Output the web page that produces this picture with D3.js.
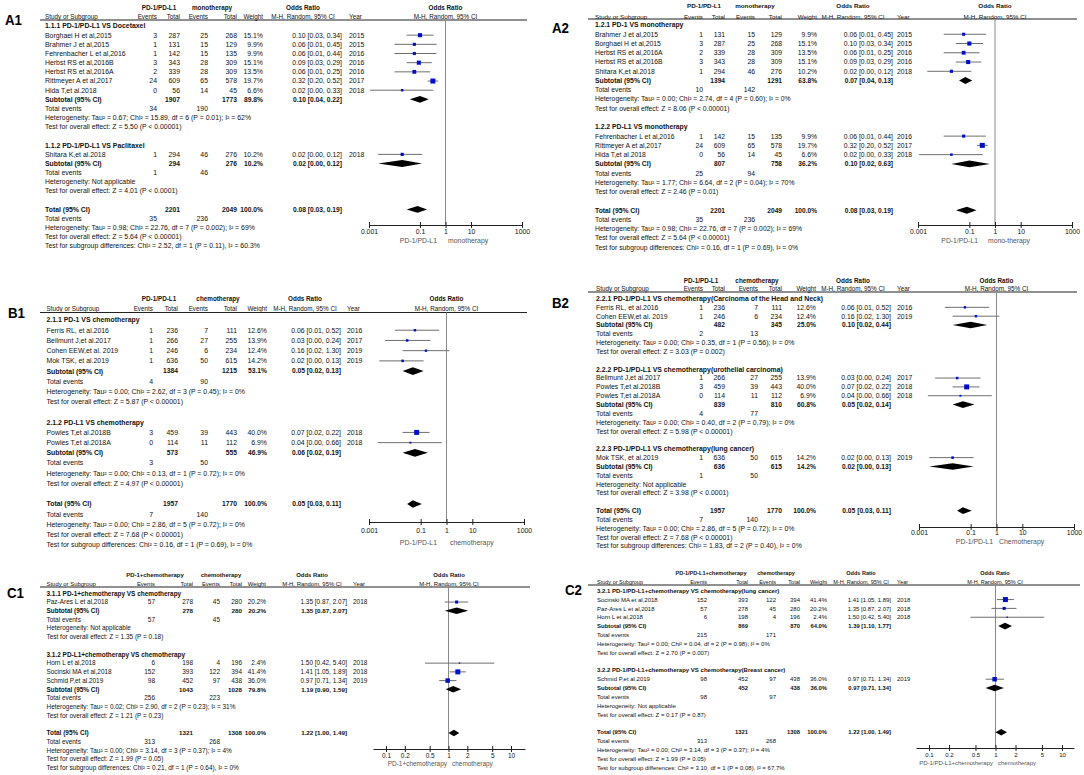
<!DOCTYPE html>
<html>
<head>
<meta charset="utf-8">
<script src="https://cdn.jsdelivr.net/npm/d3@7"></script>
<style>
  body { margin: 0; background: #fff; }
  svg text { font-family: "Liberation Sans", Arial, sans-serif; fill: #111; }
</style>
</head>
<body>
<script>
// ---- A: PD-1/PD-L1 vs monotherapy ----
const studyA = ['Borghaei H et al,2015', 'Brahmer J et al,2015', 'Fehrenbacher L et al,2016', 'Herbst RS et al,2016B', 'Herbst RS et al,2016A', 'Rittmeyer A et al,2017', 'Hida T,et al.2018', 'Shitara K,et al.2018']
const expEventsA = [3, 1, 1, 3, 2, 24, 0, 1]
const expTotalA = [287, 131, 142, 343, 339, 609, 56, 294]
const ctlEventsA = [25, 15, 15, 28, 28, 65, 14, 46]
const ctlTotalA = [268, 129, 135, 309, 309, 578, 45, 276]
const weightA = [15.1, 9.9, 9.9, 15.1, 13.5, 19.7, 6.6, 10.2]
const orA = [0.10, 0.06, 0.06, 0.09, 0.06, 0.32, 0.02, 0.02]
const lowA = [0.03, 0.01, 0.01, 0.03, 0.01, 0.20, 0.0011, 0.0023]
const highA = [0.34, 0.45, 0.44, 0.29, 0.25, 0.52, 0.33, 0.12]
const yearA = [2015, 2015, 2016, 2016, 2016, 2017, 2018, 2018]
// total row: exp total, ctl total, weight, OR, low, high, exp events, ctl events
const totalA = [2201, 2049, 100.0, 0.08, 0.03, 0.19, 35, 236]
const totalHetA = 'Tau² = 0.98; Chi² = 22.76, df = 7 (P = 0.002); I² = 69%'
const totalEffectA = 'Z = 5.64 (P < 0.00001)'

// ---- B: PD-1/PD-L1 vs chemotherapy ----
const studyB = ['Ferris RL, et al.2016', 'Bellmunt J,et al.2017', 'Cohen EEW,et al. 2019', 'Mok TSK, et al.2019', 'Powles T,et al.2018B', 'Powles T,et al.2018A']
const expEventsB = [1, 1, 1, 1, 3, 0]
const expTotalB = [236, 266, 246, 636, 459, 114]
const ctlEventsB = [7, 27, 6, 50, 39, 11]
const ctlTotalB = [111, 255, 234, 615, 443, 112]
const weightB = [12.6, 13.9, 12.4, 14.2, 40.0, 6.9]
const orB = [0.06, 0.03, 0.16, 0.02, 0.07, 0.04]
const lowB = [0.01, 0.0042, 0.02, 0.0025, 0.02, 0.0022]
const highB = [0.52, 0.24, 1.30, 0.13, 0.22, 0.66]
const yearB = [2016, 2017, 2019, 2019, 2018, 2018]
const totalB = [1957, 1770, 100.0, 0.05, 0.03, 0.11, 7, 140]
const totalHetB = 'Tau² = 0.00; Chi² = 2.86, df = 5 (P = 0.72); I² = 0%'
const totalEffectB = 'Z = 7.68 (P < 0.00001)'

// ---- C: PD-1/PD-L1 + chemotherapy vs chemotherapy ----
const studyC = ['Paz-Ares L et al,2018', 'Horn L et al,2018', 'Socinski MA et al,2018', 'Schmid P,et al.2019']
const expEventsC = [57, 6, 152, 98]
const expTotalC = [278, 198, 393, 452]
const ctlEventsC = [45, 4, 122, 97]
const ctlTotalC = [280, 196, 394, 438]
const weightC = [20.2, 2.4, 41.4, 36.0]
const orC = [1.35, 1.50, 1.41, 0.97]
const lowC = [0.87, 0.42, 1.05, 0.71]
const highC = [2.07, 5.40, 1.89, 1.34]
const yearC = [2018, 2018, 2018, 2019]
const totalC = [1321, 1308, 100.0, 1.22, 1.00, 1.49, 313, 268]
const totalHetC = 'Tau² = 0.00; Chi² = 3.14, df = 3 (P = 0.37); I² = 4%'
const totalEffectC = 'Z = 1.99 (P = 0.05)'

// ---- subgroups of each panel ----
const groupsA1 = ['1.1.1 PD-1/PD-L1 VS Docetaxel', '1.1.2 PD-1/PD-L1 VS Paclitaxel']
const membersA1 = [[0, 1, 2, 3, 4, 5, 6], [7]]
const subtotalsA1 = [[1907, 1773, 89.8, 0.10, 0.04, 0.22, 34, 190], [294, 276, 10.2, 0.02, 0.0023, 0.12, 1, 46]]
const hetA1 = ['Tau² = 0.67; Chi² = 15.89, df = 6 (P = 0.01); I² = 62%', 'Not applicable']
const effectA1 = ['Z = 5.50 (P < 0.00001)', 'Z = 4.01 (P < 0.0001)']
const diffA1 = 'Chi² = 2.52, df = 1 (P = 0.11), I² = 60.3%'

const groupsA2 = ['1.2.1 PD-1 VS monotherapy', '1.2.2 PD-L1 VS monotherapy']
const membersA2 = [[1, 0, 4, 3, 7], [2, 5, 6]]
const subtotalsA2 = [[1394, 1291, 63.8, 0.07, 0.04, 0.13, 10, 142], [807, 758, 36.2, 0.10, 0.02, 0.63, 25, 94]]
const hetA2 = ['Tau² = 0.00; Chi² = 2.74, df = 4 (P = 0.60); I² = 0%', 'Tau² = 1.77; Chi² = 6.64, df = 2 (P = 0.04); I² = 70%']
const effectA2 = ['Z = 8.06 (P < 0.00001)', 'Z = 2.46 (P = 0.01)']
const diffA2 = 'Chi² = 0.16, df = 1 (P = 0.69), I² = 0%'

const groupsB1 = ['2.1.1 PD-1 VS chemotherapy', '2.1.2 PD-L1 VS chemotherapy']
const membersB1 = [[0, 1, 2, 3], [4, 5]]
const subtotalsB1 = [[1384, 1215, 53.1, 0.05, 0.02, 0.13, 4, 90], [573, 555, 46.9, 0.06, 0.02, 0.19, 3, 50]]
const hetB1 = ['Tau² = 0.00; Chi² = 2.62, df = 3 (P = 0.45); I² = 0%', 'Tau² = 0.00; Chi² = 0.13, df = 1 (P = 0.72); I² = 0%']
const effectB1 = ['Z = 5.87 (P < 0.00001)', 'Z = 4.97 (P < 0.00001)']
const diffB1 = 'Chi² = 0.16, df = 1 (P = 0.69), I² = 0%'

const groupsB2 = ['2.2.1 PD-1/PD-L1 VS chemotherapy(Carcinoma of the Head and Neck)', '2.2.2 PD-1/PD-L1 VS chemotherapy(urothelial carcinoma)', '2.2.3 PD-1/PD-L1 VS chemotherapy(lung cancer)']
const membersB2 = [[0, 2], [1, 4, 5], [3]]
const subtotalsB2 = [[482, 345, 25.0, 0.10, 0.02, 0.44, 2, 13], [839, 810, 60.8, 0.05, 0.02, 0.14, 4, 77], [636, 615, 14.2, 0.02, 0.0025, 0.13, 1, 50]]
const hetB2 = ['Tau² = 0.00; Chi² = 0.35, df = 1 (P = 0.56); I² = 0%', 'Tau² = 0.00; Chi² = 0.40, df = 2 (P = 0.79); I² = 0%', 'Not applicable']
const effectB2 = ['Z = 3.03 (P = 0.002)', 'Z = 5.98 (P < 0.00001)', 'Z = 3.98 (P < 0.0001)']
const diffB2 = 'Chi² = 1.83, df = 2 (P = 0.40), I² = 0%'

const groupsC1 = ['3.1.1 PD-1+chemotherapy VS chemotherapy', '3.1.2 PD-L1+chemotherapy VS chemotherapy']
const membersC1 = [[0], [1, 2, 3]]
const subtotalsC1 = [[278, 280, 20.2, 1.35, 0.87, 2.07, 57, 45], [1043, 1028, 79.8, 1.19, 0.90, 1.59, 256, 223]]
const hetC1 = ['Not applicable', 'Tau² = 0.02; Chi² = 2.90, df = 2 (P = 0.23); I² = 31%']
const effectC1 = ['Z = 1.35 (P = 0.18)', 'Z = 1.21 (P = 0.23)']
const diffC1 = 'Chi² = 0.21, df = 1 (P = 0.64), I² = 0%'

const groupsC2 = ['3.2.1 PD-1/PD-L1+chemotherapy VS chemotherapy(lung cancer)', '3.2.2 PD-1/PD-L1+chemotherapy VS chemotherapy(Breast cancer)']
const membersC2 = [[2, 0, 1], [3]]
const subtotalsC2 = [[869, 870, 64.0, 1.39, 1.10, 1.77, 215, 171], [452, 438, 36.0, 0.97, 0.71, 1.34, 98, 97]]
const hetC2 = ['Tau² = 0.00; Chi² = 0.04, df = 2 (P = 0.98); I² = 0%', 'Not applicable']
const effectC2 = ['Z = 2.70 (P = 0.007)', 'Z = 0.17 (P = 0.87)']
const diffC2 = 'Chi² = 3.10, df = 1 (P = 0.08), I² = 67.7%'

// axis ticks
const wideTicks = [0.001, 0.1, 1, 10, 1000]
const wideTickText = ['0.001', '0.1', '1', '10', '1000']
const narrowTicks = [0.1, 0.2, 0.5, 1, 2, 5, 10]
const narrowTickText = ['0.1', '0.2', '0.5', '1', '2', '5', '10']

const metaA = { study: studyA, expEv: expEventsA, expN: expTotalA, ctlEv: ctlEventsA, ctlN: ctlTotalA, weight: weightA, or: orA, low: lowA, high: highA, year: yearA, total: totalA, het: totalHetA, effect: totalEffectA }
const metaB = { study: studyB, expEv: expEventsB, expN: expTotalB, ctlEv: ctlEventsB, ctlN: ctlTotalB, weight: weightB, or: orB, low: lowB, high: highB, year: yearB, total: totalB, het: totalHetB, effect: totalEffectB }
const metaC = { study: studyC, expEv: expEventsC, expN: expTotalC, ctlEv: ctlEventsC, ctlN: ctlTotalC, weight: weightC, or: orC, low: lowC, high: highC, year: yearC, total: totalC, het: totalHetC, effect: totalEffectC }

const f2 = d3.format('.2f')
const f1 = d3.format('.1f')

const svg = d3.select('body').append('svg')
  .attr('width', 1084)
  .attr('height', 775)
svg.append('rect').attr('width', 1084).attr('height', 775).attr('fill', '#fff')

const drawPanel = p => {
  const m = p.meta
  const g = svg.append('g')
  const fs = p.fs
  const bs = fs * 0.97 // bold numbers
  const hs = fs * 0.92 // column headers
  const c = p.col
  const put = (x, y, s, opt = {}) => g.append('text')
    .attr('x', x)
    .attr('y', y)
    .attr('dy', opt.dy || '0.35em')
    .attr('text-anchor', opt.anchor || 'start')
    .style('font-size', (opt.size || fs) + 'px')
    .style('font-weight', opt.bold ? 'bold' : null)
    .style('fill', opt.fill || null)
    .text(s)

  // panel label
  g.append('text')
    .attr('x', p.label[1])
    .attr('y', p.label[2])
    .attr('textLength', 17)
    .attr('lengthAdjust', 'spacingAndGlyphs')
    .style('font-size', '15px')
    .style('font-weight', 'bold')
    .style('fill', '#000')
    .text(p.label[0])

  const x = d3.scaleLog().domain(p.domain).range(p.range)
  const plotMid = (p.axisX[0] + p.axisX[1]) / 2

  // headers
  put(p.grpX[0], p.head1, p.groupText[0], { anchor: 'middle', bold: true, size: hs })
  put(p.grpX[1], p.head1, p.groupText[1], { anchor: 'middle', bold: true, size: hs })
  put(c.orHead, p.head1, 'Odds Ratio', { anchor: 'middle', bold: true, size: hs })
  put(plotMid, p.head1, 'Odds Ratio', { anchor: 'middle', bold: true, size: hs })
  put(c.study, p.head2, 'Study or Subgroup', { size: hs })
  put(c.expEv, p.head2, 'Events', { anchor: 'end', size: hs })
  put(c.expN, p.head2, 'Total', { anchor: 'end', size: hs })
  put(c.ctlEv, p.head2, 'Events', { anchor: 'end', size: hs })
  put(c.ctlN, p.head2, 'Total', { anchor: 'end', size: hs })
  put(c.weight, p.head2, 'Weight', { anchor: 'end', size: hs })
  put(c.orHead, p.head2, 'M-H, Random, 95% CI', { anchor: 'middle', size: hs })
  put(c.year, p.head2, 'Year', { size: hs })
  put(plotMid, p.head2, 'M-H, Random, 95% CI', { anchor: 'middle', size: hs })
  g.append('line')
    .attr('x1', p.lineX[0]).attr('x2', p.lineX[1])
    .attr('y1', p.rule).attr('y2', p.rule)
    .attr('stroke', '#222').attr('stroke-width', 1.2)

  // null line
  g.append('line')
    .attr('x1', x(1)).attr('x2', x(1))
    .attr('y1', p.rule).attr('y2', p.axisY)
    .attr('stroke', '#8a8a8a').attr('stroke-width', 1)

  // rows
  const rows = []
  p.groups.forEach((name, si) => {
    rows.push({ type: 'heading', text: name })
    p.members[si].forEach(i => rows.push({ type: 'study', i }))
    rows.push({ type: 'summary', label: 'Subtotal (95% CI)', s: p.subtotals[si] })
    rows.push({ type: 'events', s: p.subtotals[si] })
    rows.push({ type: 'note', text: 'Heterogeneity: ' + p.het[si] })
    rows.push({ type: 'note', text: 'Test for overall effect: ' + p.effect[si] })
    rows.push({ type: 'blank' })
  })
  rows.push({ type: 'summary', label: 'Total (95% CI)', s: m.total })
  rows.push({ type: 'events', s: m.total })
  rows.push({ type: 'note', text: 'Heterogeneity: ' + m.het })
  rows.push({ type: 'note', text: 'Test for overall effect: ' + m.effect })
  rows.push({ type: 'note', text: 'Test for subgroup differences: ' + p.diff })

  const maxW = d3.max(m.weight)
  const dh = p.pitch * 0.75

  rows.forEach((r, k) => {
    const y = p.top + k * p.pitch
    if (r.type === 'heading') {
      put(c.study, y, r.text, { bold: true })
    } else if (r.type === 'study') {
      const i = r.i
      put(c.study, y, m.study[i])
      put(c.expEv, y, m.expEv[i], { anchor: 'end' })
      put(c.expN, y, m.expN[i], { anchor: 'end' })
      put(c.ctlEv, y, m.ctlEv[i], { anchor: 'end' })
      put(c.ctlN, y, m.ctlN[i], { anchor: 'end' })
      put(c.weight, y, f1(m.weight[i]) + '%', { anchor: 'end' })
      put(c.or, y, `${f2(m.or[i])} [${f2(m.low[i])}, ${f2(m.high[i])}]`, { anchor: 'end' })
      put(c.year, y, m.year[i])
      g.append('line')
        .attr('x1', x(m.low[i])).attr('x2', x(m.high[i]))
        .attr('y1', y).attr('y2', y)
        .attr('stroke', '#6e6e6e').attr('stroke-width', 1)
      const side = 1.2 + 3.8 * m.weight[i] / maxW
      g.append('rect')
        .attr('x', x(m.or[i]) - side / 2)
        .attr('y', y - side / 2)
        .attr('width', side)
        .attr('height', side)
        .attr('fill', '#0010c8')
    } else if (r.type === 'summary') {
      const s = r.s
      put(c.study, y, r.label, { bold: true })
      put(c.expN, y, s[0], { anchor: 'end', bold: true, size: bs })
      put(c.ctlN, y, s[1], { anchor: 'end', bold: true, size: bs })
      put(c.weight, y, f1(s[2]) + '%', { anchor: 'end', bold: true, size: bs })
      put(c.or, y, `${f2(s[3])} [${f2(s[4])}, ${f2(s[5])}]`, { anchor: 'end', bold: true, size: bs })
      const d = `M${x(s[4])},${y}L${x(s[3])},${y - dh / 2}L${x(s[5])},${y}L${x(s[3])},${y + dh / 2}Z`
      g.append('path').attr('d', d).attr('fill', '#000')
    } else if (r.type === 'events') {
      put(c.study, y, 'Total events')
      put(c.expEv, y, r.s[6], { anchor: 'end' })
      put(c.ctlEv, y, r.s[7], { anchor: 'end' })
    } else if (r.type === 'note') {
      put(c.study, y, r.text)
    }
  })

  // axis
  const axisScale = x.copy()
    .domain([x.invert(p.axisX[0]), x.invert(p.axisX[1])])
    .range(p.axisX)
  const ax = g.append('g')
    .attr('transform', `translate(0,${p.axisY})`)
    .call(d3.axisBottom(axisScale)
      .tickValues(p.ticks)
      .tickFormat((d, i) => p.tickText[i])
      .tickSizeOuter(0))
  ax.attr('font-family', null).attr('font-size', null)
  ax.select('.domain').attr('stroke', '#222')
  ax.selectAll('.tick line').attr('y1', -3).attr('y2', 3).attr('stroke', '#222')
  ax.selectAll('.tick text')
    .attr('y', p.tickY - p.axisY)
    .attr('dy', '0.35em')
    .style('font-size', fs + 'px')

  put(p.capX[0], p.captionY, p.caption[0], { anchor: 'end', fill: '#555' })
  put(p.capX[1], p.captionY, p.caption[1], { fill: '#555' })
}

const panels = [
  {
    meta: metaA, label: ['A1', 5, 25], fs: 6.9,
    groupText: ['PD-1/PD-L1', 'monotherapy'], grpX: [159, 212],
    head1: 7.5, head2: 17, rule: 20, lineX: [40, 527], top: 26, pitch: 9.17,
    col: { study: 45, expEv: 157, expN: 180, ctlEv: 208, ctlN: 237, weight: 263, or: 342, year: 349, orHead: 303 },
    groups: groupsA1, members: membersA1, subtotals: subtotalsA1, het: hetA1, effect: effectA1, diff: diffA1,
    domain: [0.001, 1000], range: [369, 522], axisX: [369, 522], ticks: wideTicks, tickText: wideTickText,
    axisY: 225, tickY: 232, captionY: 241, caption: ['PD-1/PD-L1', 'monotherapy'], capX: [437, 448]
  },
  {
    meta: metaA, label: ['A2', 552, 33], fs: 6.8,
    groupText: ['PD-1/PD-L1', 'monotherapy'], grpX: [704, 755],
    head1: 6, head2: 16.5, rule: 19, lineX: [588, 1077], top: 25, pitch: 9.26,
    col: { study: 595, expEv: 703, expN: 725, ctlEv: 755, ctlN: 782, weight: 817, or: 893, year: 897, orHead: 853 },
    groups: groupsA2, members: membersA2, subtotals: subtotalsA2, het: hetA2, effect: effectA2, diff: diffA2,
    domain: [0.001, 1000], range: [918, 1072], axisX: [918, 1072], ticks: wideTicks, tickText: wideTickText,
    axisY: 225, tickY: 232, captionY: 241, caption: ['PD-1/PD-L1', 'mono-therapy'], capX: [978, 988]
  },
  {
    meta: metaB, label: ['B1', 8, 318], fs: 6.9,
    groupText: ['PD-1/PD-L1', 'chemotherapy'], grpX: [159, 218],
    head1: 299, head2: 309, rule: 312.5, lineX: [40, 527], top: 320, pitch: 10.22,
    col: { study: 46.5, expEv: 153, expN: 178, ctlEv: 208, ctlN: 237, weight: 267, or: 341, year: 347, orHead: 305 },
    groups: groupsB1, members: membersB1, subtotals: subtotalsB1, het: hetB1, effect: effectB1, diff: diffB1,
    domain: [0.001, 1000], range: [369, 524], axisX: [369, 524], ticks: wideTicks, tickText: wideTickText,
    axisY: 522, tickY: 531, captionY: 543, caption: ['PD-1/PD-L1', 'chemotherapy'], capX: [437, 450]
  },
  {
    meta: metaB, label: ['B2', 552, 308], fs: 6.9,
    groupText: ['PD-1/PD-L1', 'chemotherapy'], grpX: [701, 757],
    head1: 281, head2: 288.5, rule: 292, lineX: [588, 1077], top: 298.5, pitch: 8.84,
    col: { study: 596, expEv: 703, expN: 725, ctlEv: 758, ctlN: 782, weight: 816, or: 891, year: 897, orHead: 853 },
    groups: groupsB2, members: membersB2, subtotals: subtotalsB2, het: hetB2, effect: effectB2, diff: diffB2,
    domain: [0.001, 1000], range: [919, 1074], axisX: [919, 1074], ticks: wideTicks, tickText: wideTickText,
    axisY: 527, tickY: 533, captionY: 542, caption: ['PD-1/PD-L1', 'Chemotherapy'], capX: [993, 999]
  },
  {
    meta: metaC, label: ['C1', 7, 598], fs: 6.45,
    groupText: ['PD-1+chemotherapy', 'chemotherapy'], grpX: [155, 221],
    head1: 575, head2: 584, rule: 587, lineX: [40, 530], top: 593.3, pitch: 8.73,
    col: { study: 46.5, expEv: 155, expN: 193, ctlEv: 220, ctlN: 242, weight: 266, or: 347, year: 353, orHead: 312 },
    groups: groupsC1, members: membersC1, subtotals: subtotalsC1, het: hetC1, effect: effectC1, diff: diffC1,
    domain: [0.1, 10], range: [386, 511], axisX: [373, 525], ticks: narrowTicks, tickText: narrowTickText,
    axisY: 749, tickY: 755.5, captionY: 763.5, caption: ['PD-1+chemotherapy', 'chemotherapy'], capX: [447, 452]
  },
  {
    meta: metaC, label: ['C2', 565, 595], fs: 6.0,
    groupText: ['PD-1/PD-L1+chemotherapy', 'chemotherapy'], grpX: [711, 776],
    head1: 573.3, head2: 581.7, rule: 585, lineX: [588, 1080], top: 590.7, pitch: 8.85,
    col: { study: 597, expEv: 707, expN: 748, ctlEv: 776, ctlN: 800, weight: 827, or: 891, year: 897, orHead: 861 },
    groups: groupsC2, members: membersC2, subtotals: subtotalsC2, het: hetC2, effect: effectC2, diff: diffC2,
    domain: [0.1, 10], range: [929, 1062], axisX: [916, 1074], ticks: narrowTicks, tickText: narrowTickText,
    axisY: 748, tickY: 754.5, captionY: 763, caption: ['PD-1/PD-L1+chemotherapy', 'chemotherapy'], capX: [993, 998]
  }
]

panels.forEach(drawPanel)
</script>
</body>
</html>
